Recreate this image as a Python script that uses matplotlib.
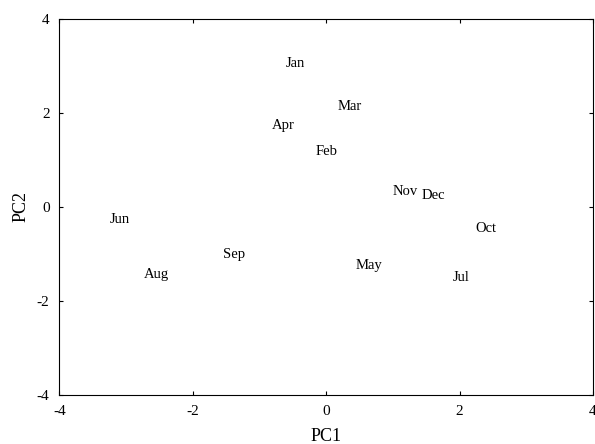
import matplotlib
matplotlib.use('Agg')
import matplotlib.pyplot as plt

months = ['Jan', 'Feb', 'Mar', 'Apr', 'May', 'Jun', 'Jul', 'Aug', 'Sep', 'Oct', 'Nov', 'Dec']
pc1 = [-0.46, 0.0, 0.35, -0.64, 0.64, -3.10, 2.02, -2.55, -1.38, 2.40, 1.18, 1.61]
pc2 = [3.04, 1.17, 2.13, 1.72, -1.24, -0.26, -1.49, -1.43, -1.01, -0.45, 0.32, 0.25]
ticks = [-4, -2, 0, 2, 4]

plt.rcParams['font.family'] = ['Liberation Serif', 'DejaVu Serif']
plt.rcParams['axes.unicode_minus'] = False

fig = plt.figure(figsize=(5.95, 4.44), dpi=100)
ax = fig.add_axes([0.0997, 0.1097, 0.8969, 0.8483])

for m, x, y in zip(months, pc1, pc2):
    ax.text(x, y, m, ha='center', va='center', fontsize=10.5)

ax.set_xlim(-4, 4)
ax.set_ylim(-4, 4)
ax.set_xticks(ticks)
ax.set_yticks(ticks)
ax.tick_params(direction='in', length=3, top=True, right=True, labelsize=11, pad=7)
ax.set_xlabel('PC1', fontsize=13, labelpad=7.5)
ax.set_ylabel('PC2', fontsize=13, labelpad=5)

fig.savefig('out.png', dpi=100)
